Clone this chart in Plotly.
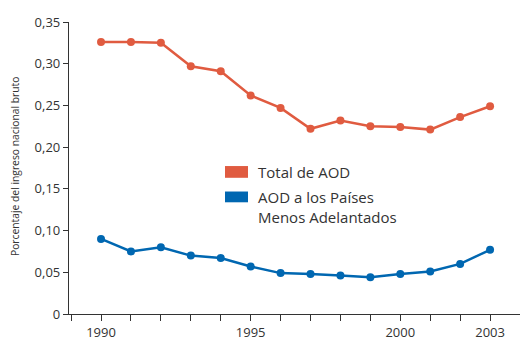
import plotly.graph_objects as go

# Ayuda oficial al desarrollo como porcentaje del ingreso nacional bruto
years = [1990, 1991, 1992, 1993, 1994, 1995, 1996, 1997, 1998, 1999, 2000, 2001, 2002, 2003]
aod_total = [0.326, 0.326, 0.325, 0.297, 0.291, 0.262, 0.247, 0.222, 0.232, 0.225, 0.224, 0.221, 0.236, 0.249]
aod_pma = [0.090, 0.075, 0.080, 0.070, 0.067, 0.057, 0.049, 0.048, 0.046, 0.044, 0.048, 0.051, 0.060, 0.077]

y_ticks = [0, 0.05, 0.10, 0.15, 0.20, 0.25, 0.30, 0.35]
y_labels = ["0", "0,05", "0,10", "0,15", "0,20", "0,25", "0,30", "0,35"]
x_ticks = list(range(1989, 2004))
x_labels = ["" if y not in (1990, 1995, 2000, 2003) else str(y) for y in x_ticks]

RED = "#E05B40"
BLUE = "#0067B1"
INK = "#333333"
FONT = "Open Sans"

TOP, BOTTOM = 22, 320  # plot area in pixels (top edge, bottom edge)

fig = go.Figure()
fig.add_trace(go.Scatter(
    x=years, y=aod_total, mode="lines+markers",
    line=dict(color=RED, width=2.5), marker=dict(color=RED, size=8),
    name="Total de AOD", showlegend=False))
fig.add_trace(go.Scatter(
    x=years, y=aod_pma, mode="lines+markers",
    line=dict(color=BLUE, width=2.5), marker=dict(color=BLUE, size=8),
    name="AOD a los Países Menos Adelantados", showlegend=False))

# Legend drawn as colour swatches with text beside them
def px_x(p):
    return (p - 69) / 451

def px_y(p):
    return (BOTTOM - p) / (BOTTOM - TOP)

fig.add_shape(type="rect", xref="paper", yref="paper",
              x0=px_x(225), x1=px_x(248), y0=px_y(181), y1=px_y(169),
              fillcolor=RED, line_width=0)
fig.add_shape(type="rect", xref="paper", yref="paper",
              x0=px_x(225), x1=px_x(248), y0=px_y(206), y1=px_y(195),
              fillcolor=BLUE, line_width=0)
fig.add_annotation(xref="paper", yref="paper", x=px_x(256), y=px_y(175.5),
                   text="Total de AOD", showarrow=False, xanchor="left", yanchor="middle",
                   font=dict(family=FONT, size=15, color=INK))
fig.add_annotation(xref="paper", yref="paper", x=px_x(256), y=px_y(210.5),
                   text="AOD a los Países<br>Menos Adelantados", showarrow=False,
                   xanchor="left", yanchor="middle", align="left",
                   font=dict(family=FONT, size=15, color=INK))

# Vertical axis title
fig.add_annotation(xref="paper", yref="paper", x=px_x(15), y=px_y(170),
                   text="Porcentaje del ingreso nacional bruto", showarrow=False,
                   textangle=-90, xanchor="center", yanchor="middle",
                   font=dict(family=FONT, size=10.3, color=INK))

fig.update_layout(
    width=520, height=341,
    margin=dict(l=69, r=0, t=TOP, b=341 - BOTTOM),
    paper_bgcolor="white", plot_bgcolor="white",
    font=dict(family=FONT, color=INK),
    xaxis=dict(range=[1988.93, 2004.0], tickvals=x_ticks, ticktext=x_labels,
               ticks="outside", ticklen=6, tickwidth=1.2, tickcolor=INK,
               showline=True, linecolor=INK, linewidth=1.3,
               showgrid=False, zeroline=False,
               tickfont=dict(family=FONT, size=13, color=INK)),
    yaxis=dict(range=[0, 0.35], tickvals=y_ticks, ticktext=y_labels,
               ticks="outside", ticklen=5, tickwidth=1.2, tickcolor=INK,
               showline=True, linecolor=INK, linewidth=1.3,
               showgrid=False, zeroline=False,
               tickfont=dict(family=FONT, size=13, color=INK)),
)

fig.write_html("out.html")
